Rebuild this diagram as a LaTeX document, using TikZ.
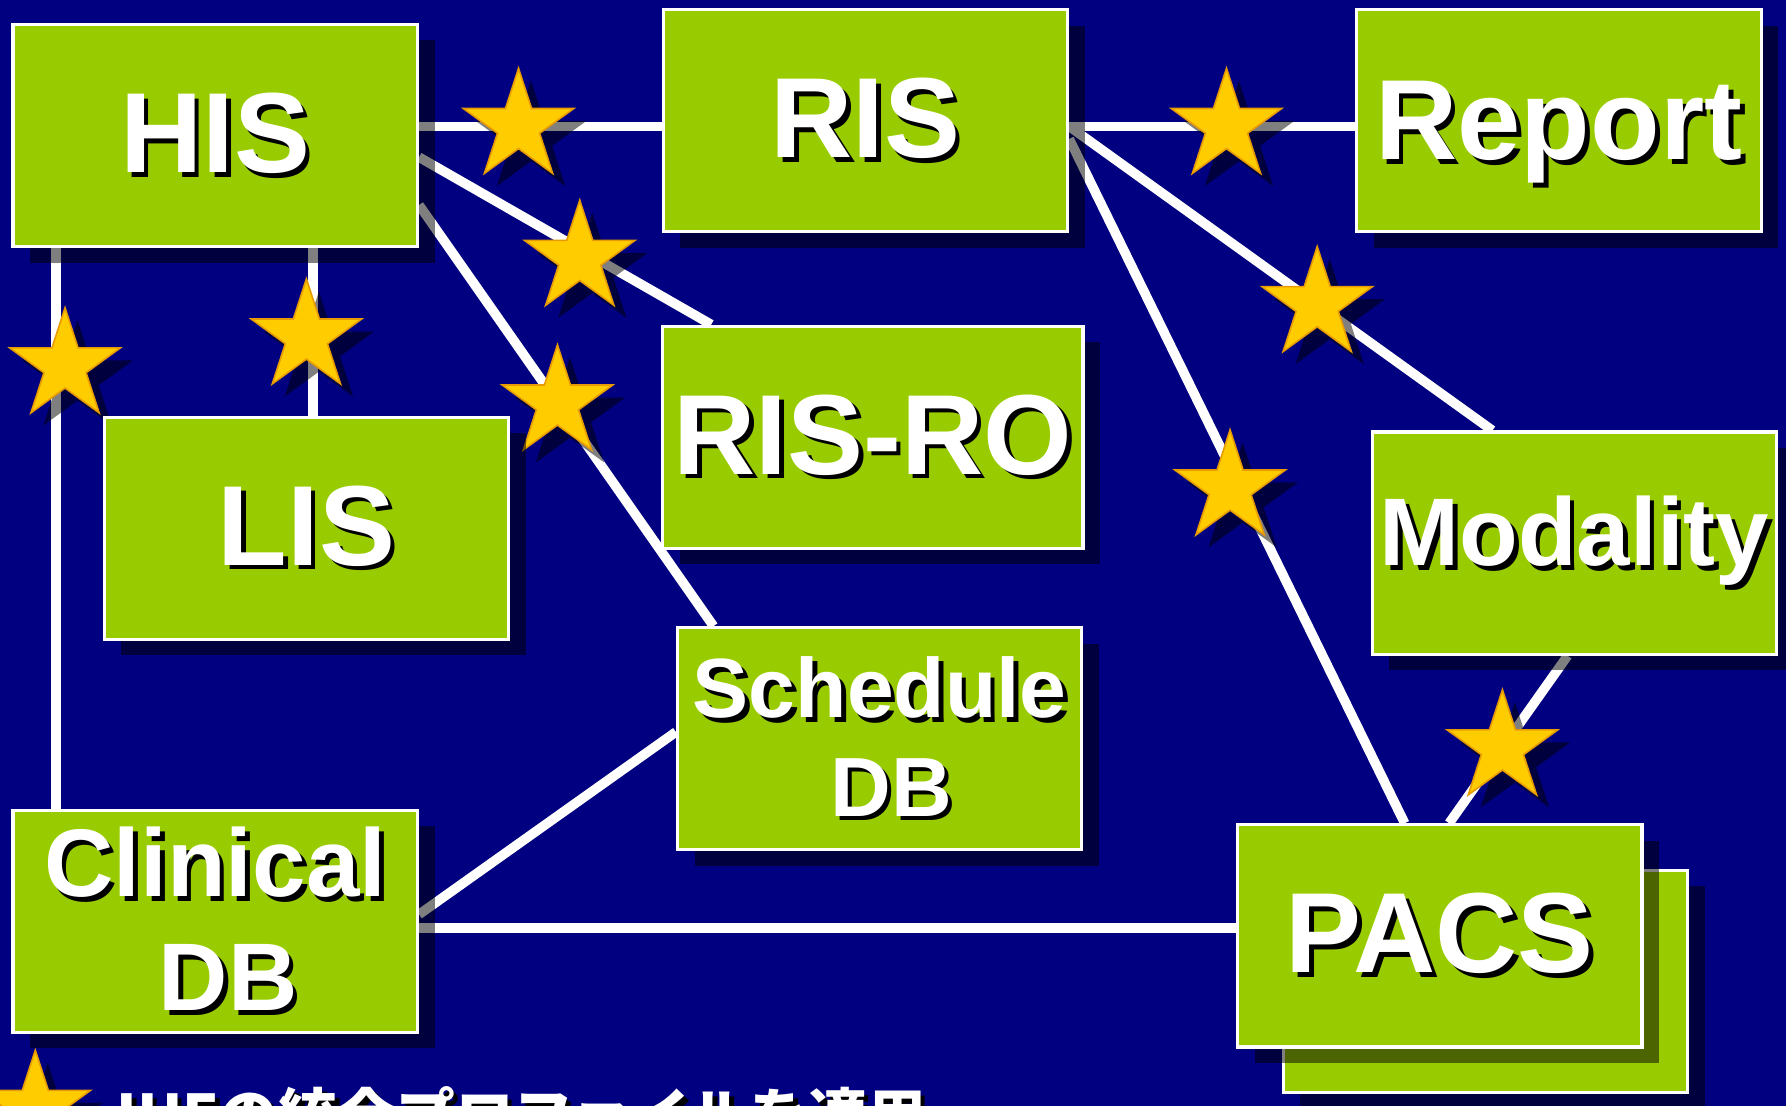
\documentclass[tikz,border=0pt]{standalone}
\usepackage{fontspec}
\setmainfont{Liberation Sans}
\newfontfamily\jpfont{Noto Sans CJK JP}
\usetikzlibrary{positioning,shapes.geometric,shadows,calc}
\definecolor{navy}{HTML}{000080}
\definecolor{leaf}{HTML}{99CC00}
\definecolor{gold}{HTML}{FFCC00}
\definecolor{rim}{HTML}{E89B00}
\pgfdeclarelayer{back}
\pgfdeclarelayer{wires}
\pgfsetlayers{back,wires,main}
\newcommand{\shtxt}[1]{\makebox[0pt][l]{\hspace{0.04cm}\raisebox{-0.04cm}{\color{black}#1}}#1}
\tikzset{
  sysbox/.style={rectangle, draw=white, line width=0.8pt, fill=leaf, text=white,
    font=\bfseries\fontsize{28.45}{34}\selectfont, minimum width=3.55cm, minimum height=1.95cm,
    inner sep=0.05cm, align=center,
    drop shadow={shadow xshift=0.15cm, shadow yshift=-0.14cm, fill=black, opacity=0.5}},
  link/.style={draw=white, line width=2.4pt},
  ihe/.style={star, star points=5, star point ratio=2.618, minimum size=1.02cm, inner sep=0pt,
    fill=gold, draw=rim, line width=0.4pt,
    drop shadow={shadow xshift=0.11cm, shadow yshift=-0.11cm, fill=black, opacity=0.5}}
}
\begin{document}
\begin{tikzpicture}
    \useasboundingbox (0,0) rectangle (15.68,-9.71);
    \begin{pgfonlayer}{back}
        \fill[navy] (0,0) rectangle (15.68,-9.71);
    \end{pgfonlayer}
    % systems
    \node (his) [sysbox] at (1.89,-1.19) {\shtxt{HIS}};
    \node (ris) [sysbox, right=2.13cm of his, yshift=0.13cm] {\shtxt{RIS}};
    \node (report) [sysbox, right=2.51cm of ris, text depth=0pt] {\shtxt{Report}};
    \node (risro) [sysbox, minimum width=3.69cm, below=0.8cm of ris, xshift=0.065cm] {\shtxt{RIS-RO}};
    \node (sched) [sysbox, below=0.67cm of risro, xshift=0.06cm, font=\bfseries\fontsize{21}{24.5}\selectfont] {\shtxt{Schedule}\\\hspace{0.2cm}\shtxt{DB}};
    \node (lis) [sysbox, below=1.47cm of his, xshift=0.8cm] {\shtxt{LIS}};
    \node (clin) [sysbox, below=4.92cm of his, font=\bfseries\fontsize{24}{28.5}\selectfont] {\shtxt{Clinical}\\\hspace{0.23cm}\shtxt{DB}};
    \node (modality) [sysbox, below=1.73cm of report, xshift=0.135cm, font=\bfseries\fontsize{24}{29}\selectfont] {\shtxt{Modality}};
    \node (pacsback) [sysbox, below=1.87cm of modality, xshift=-0.78cm] {};
    \node (pacs) [sysbox, xshift=-0.4cm, yshift=0.4cm] at (pacsback) {\shtxt{PACS}};
    % links with IHE profiles
    \begin{pgfonlayer}{wires}
        \draw[link] ($(ris.west)+(0,-0.05)$) coordinate (r1) -- node[ihe, pos=0.59] {} (r1 -| his.east);
        \draw[link] ($(ris.east)+(0,-0.05)$) coordinate (r2) -- node[ihe, pos=0.55] {} (r2 -| report.west);
        \draw[link] ($(his.east)+(0,-0.19)$) -- node[ihe, pos=0.55, yshift=-0.08cm] {} ($(risro.north west)+(0.44,0)$);
        \draw[link] ($(his.east)+(0,-0.61)$) -- node[ihe, pos=0.47] {} ($(sched.north west)+(0.33,0)$);
        \draw[link] ($(clin.north west)+(0.39,0)$) coordinate (c1) -- node[ihe, pos=0.79, xshift=0.08cm] {} (c1 |- his.south);
        \draw[link] ($(lis.north)+(0.06,0)$) coordinate (l1) -- node[ihe, pos=0.47, xshift=-0.06cm] {} (l1 |- his.south);
        \draw[link] ($(ris.east)+(0,-0.05)$) -- node[ihe, pos=0.586] {} ($(modality.north west)+(1.07,0)$);
        \draw[link] ($(ris.east)+(0,-0.16)$) -- node[ihe, pos=0.51, xshift=-0.09cm] {} ($(pacs.north west)+(1.48,0)$);
        \draw[link] ($(modality.south west)+(1.73,0)$) -- node[ihe, pos=0.55] {} ($(pacs.north west)+(1.87,0)$);
        \draw[link] ($(clin.east)+(0,0.06)$) -- ($(sched.west)+(0,0.06)$);
        \draw[link] ($(pacs.west)+(0,0.07)$) coordinate (p1) -- (p1 -| clin.east);
    \end{pgfonlayer}
    % legend
    \node (legstar) [ihe] at (0.31,-9.73) {};
    \node (legtext) [anchor=base west, text=white, font=\jpfont\bfseries\fontsize{14.7}{18}\selectfont] at (0.9,-9.99) {\shtxt{IHEの統合プロファイルを適用}};
\end{tikzpicture}
\end{document}
